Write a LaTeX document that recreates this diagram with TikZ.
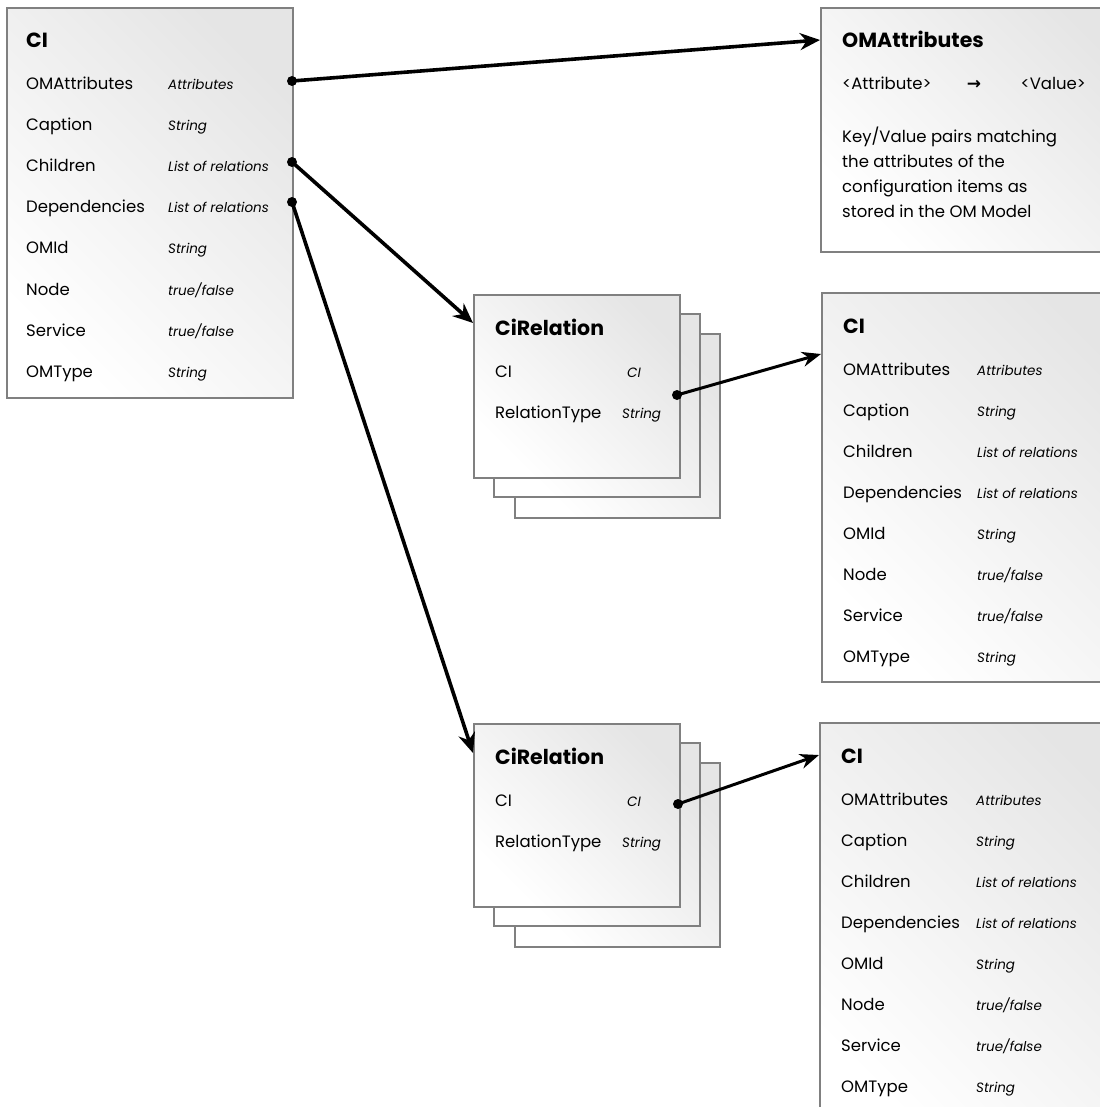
\documentclass[tikz,border=0pt]{standalone}
\usepackage{fontspec}
\setmainfont{Poppins}
\usetikzlibrary{arrows.meta}
\newcommand\tfval{true/false}
\newcommand\lorval{List of relations}
\tikzset{
  box/.style={draw=black!50, line width=2.2pt, top color=black!10, bottom color=white,
    shading angle=-45, rectangle, inner sep=0pt, anchor=north west},
  lab/.style={anchor=base west, inner sep=0pt, font=\fontsize{16.5}{20}\selectfont},
  typ/.style={anchor=base west, inner sep=0pt, font=\fontsize{13.5}{16}\selectfont\itshape},
  ttl/.style={anchor=base west, inner sep=0pt, font=\fontsize{20.5}{24}\selectfont\bfseries},
  dot/.style={circle, fill=black, inner sep=0pt, minimum size=10pt},
  link/.style={line width=3.6pt, -{Stealth[length=20pt,width=17pt]}},
  rlink/.style={line width=3pt, -{Stealth[length=19pt,width=15pt]}}
}
% #1 name, #2 left, #3 top, #4 height, #5 label inset, #6 type inset, #7 width
\newcommand\mkcibox[7]{%
  \node[box, minimum width=#7pt, minimum height=#4pt] (#1) at (#2,#3) {};
  \node[ttl] (#1-title) at ({#2+#5},{#3+41}) {CI};
  \foreach \lab/\typ [count=\k] in {OMAttributes/Attributes, Caption/String,
      Children/\lorval, Dependencies/\lorval, OMId/String, Node/\tfval,
      Service/\tfval, OMType/String}{
    \node[lab] (#1-l\k) at ({#2+#5},{#3+83+41*(\k-1)}) {\lab};
    \node[typ] (#1-t\k) at ({#2+#6},{#3+83+41*(\k-1)}) {\typ};
  }%
}
% #1 name, #2 left, #3 top
\newcommand\mkrelstack[3]{%
  \node[box, minimum width=205pt, minimum height=184pt] (#1-back) at ({#2+41},{#3+39}) {};
  \node[box, minimum width=206pt, minimum height=183pt] (#1-mid) at ({#2+20},{#3+19}) {};
  \node[box, minimum width=206pt, minimum height=183pt] (#1) at (#2,#3) {};
  \node[ttl] (#1-title) at ({#2+22},{#3+41}) {CiRelation};
  \node[lab] (#1-l1) at ({#2+22},{#3+83}) {CI};
  \node[typ] (#1-t1) at ({#2+154},{#3+83}) {CI};
  \node[lab] (#1-l2) at ({#2+22},{#3+124}) {RelationType};
  \node[typ] (#1-t2) at ({#2+149},{#3+124}) {String};
}
\begin{document}
\begin{tikzpicture}[x=1pt,y=-1pt]
\useasboundingbox (0,0) rectangle (1099,1107);
\fill[white] (0,0) rectangle (1099,1107);

% top-left CI
\mkcibox{ciA}{6}{7}{390}{20}{162}{286}

% OMAttributes
\node[box, minimum width=320pt, minimum height=244pt] (omattr) at (820,7) {};
\node[ttl] (om-title) at (842,48) {OMAttributes};
\node[lab] (om-attr) at (842,90) {<Attribute>};
\node[lab, anchor=base] (om-arrow) at (974,90) {\fontspec{DejaVu Sans Bold}\fontsize{17}{20}\selectfont →};
\node[lab, anchor=base east] (om-val) at (1086,90) {<Value>};
\node[lab, align=left, anchor=north west, font=\fontsize{16.5}{25}\selectfont] (om-desc) at (842,127)
  {Key/Value pairs matching\\the attributes of the\\configuration items as\\stored in the OM Model};

% CiRelation stacks
\mkrelstack{relA}{473}{294}
\mkrelstack{relB}{473}{723}

% right CI boxes
\mkcibox{ciB}{821}{292}{389}{22}{156}{320}
\mkcibox{ciC}{819}{722}{420}{22}{157}{320}

% connector start points
\coordinate (d1) at (292,81);
\coordinate (d2) at (292,162);
\coordinate (d3) at (292,202);
\coordinate (d4) at (677,395);
\coordinate (d5) at (678,804);
\foreach \d in {d1,d2,d3,d4,d5} \node[dot] (\d-dot) at (\d) {};

\draw[link] (d1) -- ([yshift=-33pt]omattr.north west);
\draw[link] (d2) -- ([yshift=-29pt]relA.north west);
\draw[link] (d3) -- ([yshift=-30pt]relB.north west);
\draw[rlink] (d4) -- ([yshift=-62pt]ciB.north west);
\draw[rlink] (d5) -- ([yshift=-33pt]ciC.north west);
\end{tikzpicture}
\end{document}
